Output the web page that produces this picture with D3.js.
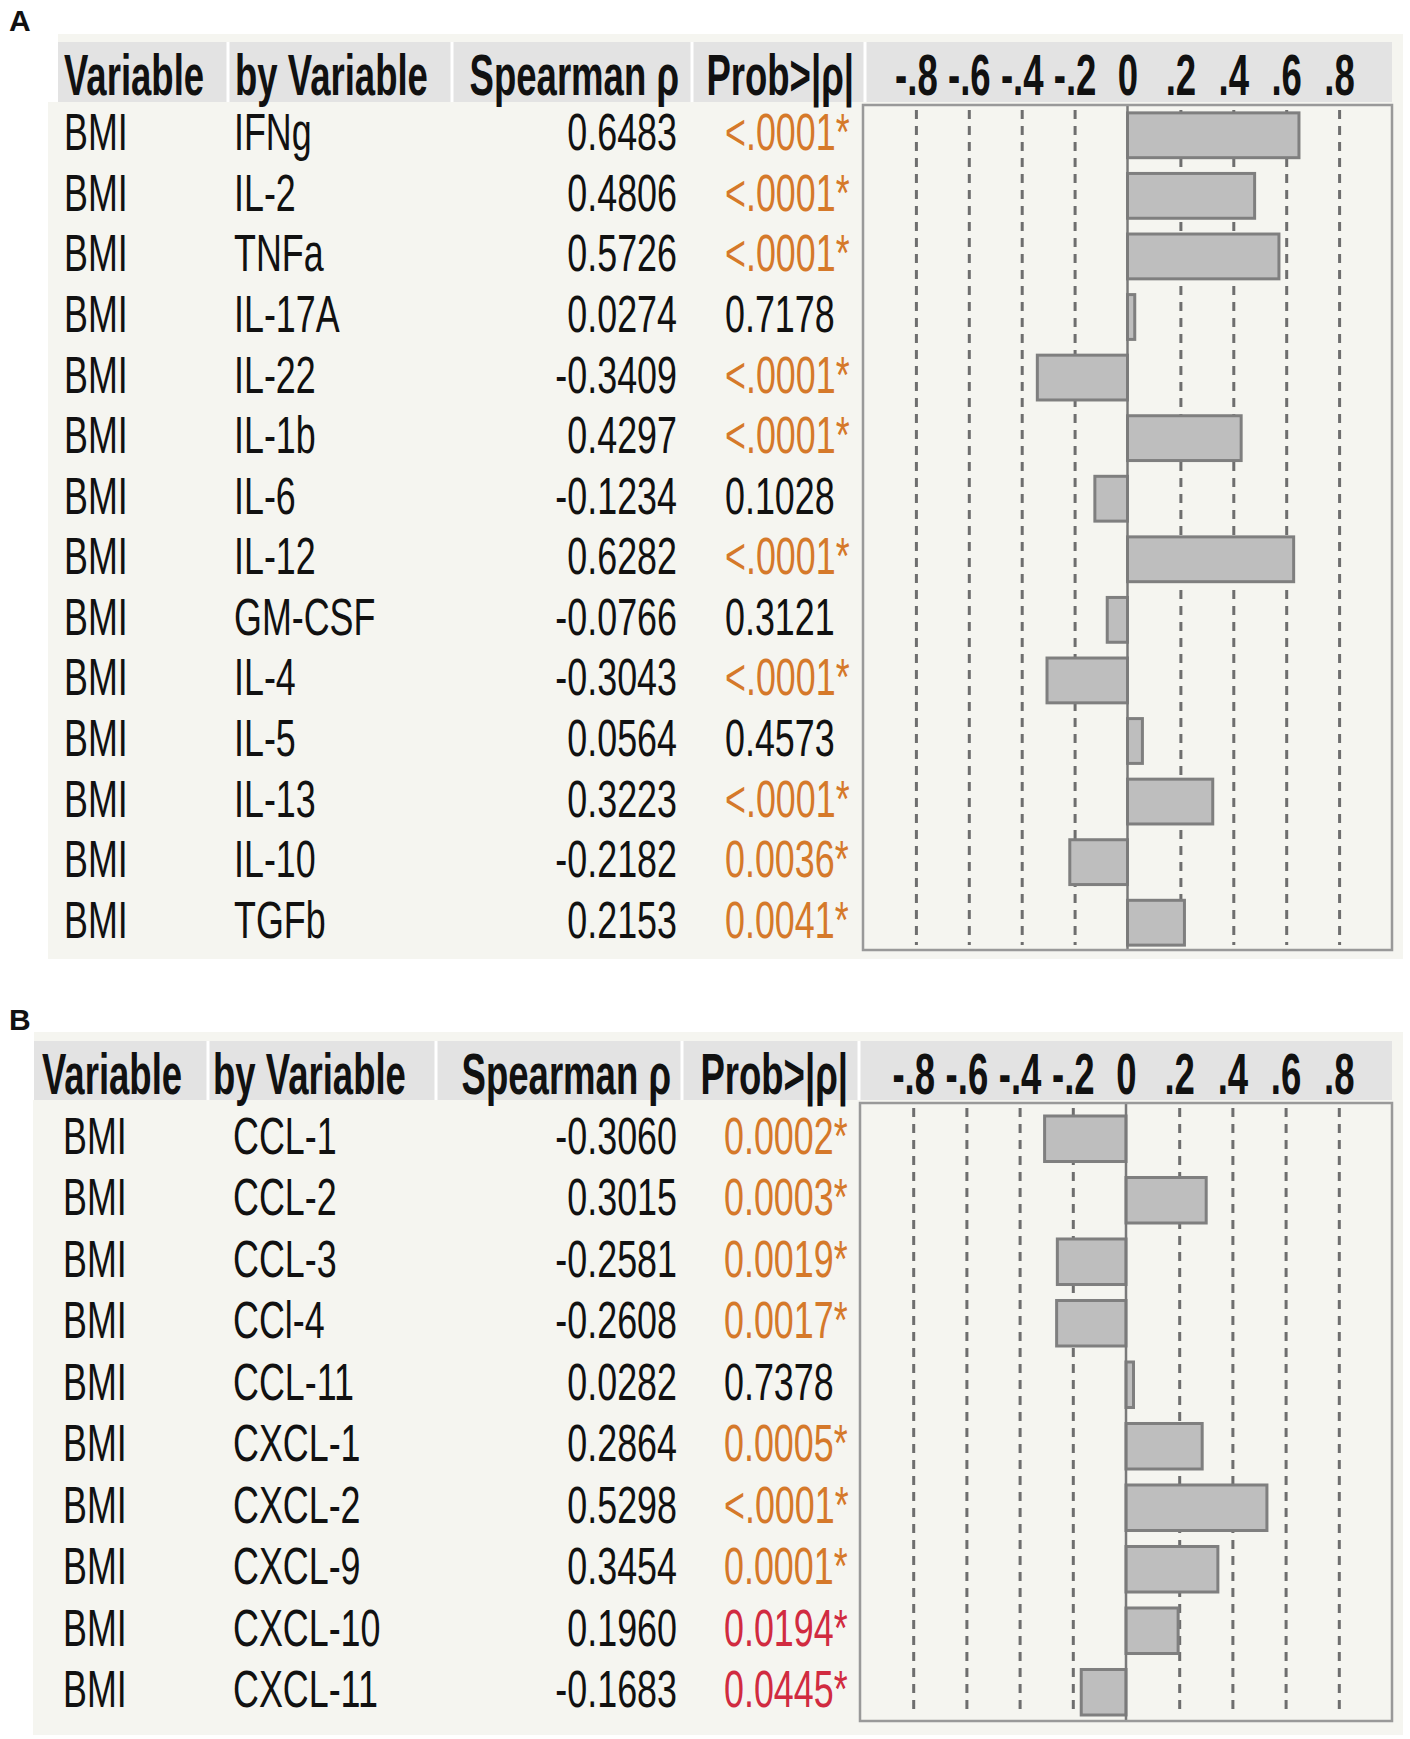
<!DOCTYPE html>
<html>
<head>
<meta charset="utf-8">
<script src="https://cdn.jsdelivr.net/npm/d3@7"></script>
<style>
  body { margin: 0; background: #fff; }
  text { font-family: "Liberation Sans", Arial, Helvetica, sans-serif; }
</style>
</head>
<body>
<div id="chart"></div>
<script>
// Panel A - cytokines
const cytokines = ['IFNg', 'IL-2', 'TNFa', 'IL-17A', 'IL-22', 'IL-1b', 'IL-6', 'IL-12', 'GM-CSF', 'IL-4', 'IL-5', 'IL-13', 'IL-10', 'TGFb']
const rhoA = [0.6483, 0.4806, 0.5726, 0.0274, -0.3409, 0.4297, -0.1234, 0.6282, -0.0766, -0.3043, 0.0564, 0.3223, -0.2182, 0.2153]
const probA = ['<.0001*', '<.0001*', '<.0001*', '0.7178', '<.0001*', '<.0001*', '0.1028', '<.0001*', '0.3121', '<.0001*', '0.4573', '<.0001*', '0.0036*', '0.0041*']

// Panel B - chemokines
const chemokines = ['CCL-1', 'CCL-2', 'CCL-3', 'CCl-4', 'CCL-11', 'CXCL-1', 'CXCL-2', 'CXCL-9', 'CXCL-10', 'CXCL-11']
const rhoB = [-0.3060, 0.3015, -0.2581, -0.2608, 0.0282, 0.2864, 0.5298, 0.3454, 0.1960, -0.1683]
const probB = ['0.0002*', '0.0003*', '0.0019*', '0.0017*', '0.7378', '0.0005*', '<.0001*', '0.0001*', '0.0194*', '0.0445*']

const variable = 'BMI'
const headers = ['Variable', 'by Variable', 'Spearman ρ', 'Prob>|ρ|']
const tickValues = [-0.8, -0.6, -0.4, -0.2, 0, 0.2, 0.4, 0.6, 0.8]
const tickLabels = ['-.8', '-.6', '-.4', '-.2', '0', '.2', '.4', '.6', '.8']

const orange = '#d5792a'
const red = '#d12b40'
const fmt = d3.format('.4f')

// JMP colours: p < .01 orange, p < .05 red
const pColor = p => {
    let v = +p.replace('<', '').replace('*', '')
    return v < 0.01 ? orange : v < 0.05 ? red : '#111'
}

const svg = d3.select('#chart')
    .append('svg')
    .attr('width', 1410)
    .attr('height', 1739)

svg.append('rect').attr('width', 1410).attr('height', 1739).attr('fill', '#fff')

// text squeezed horizontally like the condensed font of the original
const txt = (g, x, y, s, o) => g.append('text')
    .attr('transform', `translate(${x},${y}) scale(${o.sx},1)`)
    .attr('text-anchor', o.anchor || 'start')
    .attr('font-size', o.size)
    .attr('font-weight', o.weight || 'normal')
    .attr('fill', o.fill || '#111')
    .text(s)

const drawPanel = (p, names, rho, prob) => {
    let g = svg.append('g')
    let right = 1403
    let plotRight = 1392

    txt(g, 9, p.labelY, p.label, {size: 30, weight: 'bold', sx: 1})

    // backgrounds
    g.append('rect').attr('x', p.left).attr('y', p.top)
        .attr('width', right - p.left).attr('height', p.headBottom - p.top).attr('fill', '#f5f5f0')
    g.append('rect').attr('x', p.left).attr('y', p.headTop)
        .attr('width', plotRight - p.left).attr('height', p.headBottom - p.headTop).attr('fill', '#e3e3e3')
    g.append('rect').attr('x', p.dataLeft).attr('y', p.headBottom)
        .attr('width', right - p.dataLeft).attr('height', p.bottom - p.headBottom).attr('fill', '#f5f5f0')
    g.selectAll('.sep')
        .data(p.seps)
        .enter()
        .append('line')
        .attr('x1', d => d).attr('x2', d => d)
        .attr('y1', p.headTop).attr('y2', p.headBottom)
        .attr('stroke', '#fff').attr('stroke-width', 3)

    // header texts
    let hy = p.headTop + 53
    let hopt = {size: 58, weight: 'bold', sx: 0.63}
    txt(g, p.headX[0], hy, headers[0], hopt)
    txt(g, p.headX[1], hy, headers[1], hopt)
    txt(g, p.headX[2], hy, headers[2], {...hopt, anchor: 'end'})
    txt(g, p.headX[3], hy, headers[3], {...hopt, anchor: 'end'})

    let x = d3.scaleLinear().domain([-1, 1]).range([p.boxLeft, plotRight])
    let y = d3.scaleBand().domain(names).range([p.rowTop, p.rowBottom])
        .paddingInner(0.26).paddingOuter(0.13)

    // axis labels inside the header
    let axis = d3.axisTop(x)
        .tickValues(tickValues)
        .tickFormat((d, i) => tickLabels[i])
        .tickSize(0)
        .tickPadding(0)
    let ax = g.append('g').attr('transform', `translate(0,${hy})`).call(axis)
    ax.select('.domain').remove()
    ax.selectAll('text')
        .attr('font-size', 58)
        .attr('font-weight', 'bold')
        .attr('font-family', '"Liberation Sans", Arial, sans-serif')
        .attr('fill', '#111')
        .attr('transform', 'scale(0.63,1)')

    // dashed grid lines
    let grid = d3.axisBottom(x)
        .tickValues(tickValues.filter(d => d !== 0))
        .tickSize(p.boxBottom - p.boxTop - 10)
        .tickFormat('')
    let gr = g.append('g').attr('transform', `translate(0,${p.boxTop + 5})`).call(grid)
    gr.select('.domain').remove()
    gr.selectAll('line')
        .attr('stroke', '#6e6e6e')
        .attr('stroke-width', 3)
        .attr('stroke-dasharray', '9,7')

    let rows = names.map((n, i) => ({name: n, rho: rho[i], p: prob[i]}))

    // bars
    g.selectAll('.bar')
        .data(rows)
        .enter()
        .append('rect')
        .attr('x', d => x(Math.min(0, d.rho)))
        .attr('y', d => y(d.name))
        .attr('width', d => Math.abs(x(d.rho) - x(0)))
        .attr('height', y.bandwidth())
        .attr('fill', '#bebebe')
        .attr('stroke', '#7f7f7f')
        .attr('stroke-width', 3)

    // zero line and plot frame
    g.append('line')
        .attr('x1', x(0)).attr('x2', x(0))
        .attr('y1', p.boxTop).attr('y2', p.boxBottom)
        .attr('stroke', '#7a7a7a').attr('stroke-width', 2.5)
    g.append('rect')
        .attr('x', p.boxLeft).attr('y', p.boxTop)
        .attr('width', plotRight - p.boxLeft).attr('height', p.boxBottom - p.boxTop)
        .attr('fill', 'none').attr('stroke', '#999').attr('stroke-width', 2.5)

    // table cells
    let opt = {size: 52, sx: 0.69}
    rows.forEach(d => {
        let by = y(d.name) + y.bandwidth() / 2 + 15
        txt(g, p.colX[0], by, variable, opt)
        txt(g, p.colX[1], by, d.name, opt)
        txt(g, p.colX[2], by, fmt(d.rho).replace('−', '-'), {...opt, anchor: 'end'})
        txt(g, p.colX[3], by, d.p, {...opt, fill: pColor(d.p)})
    })
}

drawPanel({
    label: 'A', labelY: 31, top: 34, headTop: 42, headBottom: 102,
    left: 58, dataLeft: 48, seps: [228, 452, 692, 865],
    boxLeft: 863, boxTop: 105, boxBottom: 950, bottom: 959,
    rowTop: 105, rowBottom: 953,
    headX: [64, 235, 679, 854], colX: [64, 234, 677, 725]
}, cytokines, rhoA, probA)

drawPanel({
    label: 'B', labelY: 1030, top: 1032, headTop: 1041, headBottom: 1100,
    left: 34, dataLeft: 33, seps: [208, 436, 682, 859],
    boxLeft: 860, boxTop: 1103, boxBottom: 1721, bottom: 1735,
    rowTop: 1108, rowBottom: 1723,
    headX: [42, 213, 671, 848], colX: [63, 233, 677, 724]
}, chemokines, rhoB, probB)
</script>
</body>
</html>
